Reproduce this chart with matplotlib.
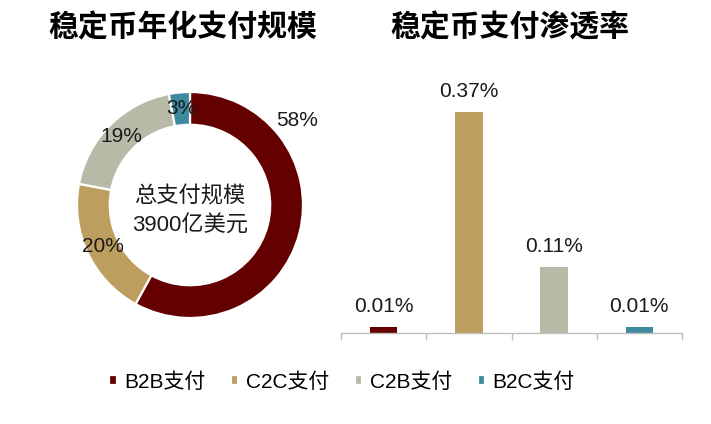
import numpy as np
import matplotlib
matplotlib.use('Agg')
import matplotlib.pyplot as plt

plt.rcParams['font.family'] = ['Liberation Sans', 'Noto Sans CJK SC', 'DejaVu Sans']

# data
categories = ['B2B支付', 'C2C支付', 'C2B支付', 'B2C支付']
share = [58, 20, 19, 3]              # 年化支付规模占比, %
penetration = [0.01, 0.37, 0.11, 0.01]  # 支付渗透率, %
colors = ['#650000', '#BD9E5E', '#B9B9A7', '#3E8A9E']
total_label = '总支付规模\n3900亿美元'

fig = plt.figure(figsize=(7.11, 4.24), dpi=100)

# donut
ax1 = fig.add_axes([77/711, 106/424, 226/711, 226/424])
wedges, texts, autotexts = ax1.pie(share, colors=colors, startangle=90, counterclock=False,
                                   radius=1, autopct=lambda p: '%d%%' % round(p), pctdistance=0.855,
                                   wedgeprops=dict(width=0.29, edgecolor='white', linewidth=1.6),
                                   textprops=dict(fontsize=15, color='#1a1a1a'))
# the big share label sits outside the ring
autotexts[0].set_position((0.95, 0.75))
ax1.set_xlim(-1, 1)
ax1.set_ylim(-1, 1)
ax1.set_aspect('equal')
ax1.text(0, -0.06, total_label, ha='center', va='center', fontsize=16, color='#1a1a1a',
         linespacing=1.5)
fig.text(183/711, 1 - 28/424, '稳定币年化支付规模', ha='center', va='center',
         fontsize=21.5, fontweight='bold', color='black')

# bars
ax2 = fig.add_axes([341/711, 91/424, 341/711, 239/424])
x = np.arange(len(categories))
bars = ax2.bar(x, penetration, width=0.32, color=colors)
for xi, v in zip(x, penetration):
    ax2.annotate('%.2f%%' % v, (xi, v), xytext=(0, 8), textcoords='offset points',
                 ha='center', va='bottom', fontsize=15, color='#1a1a1a', annotation_clip=False)
ax2.set_xlim(-0.5, len(categories) - 0.5)
ax2.set_ylim(0, 0.40)
for s in ['top', 'right', 'left']:
    ax2.spines[s].set_visible(False)
ax2.spines['bottom'].set_color('#bfbfbf')
ax2.spines['bottom'].set_linewidth(1.0)
ax2.set_yticks([])
ax2.set_xticks(np.arange(-0.5, len(categories)), labels=[''] * (len(categories) + 1))
ax2.tick_params(axis='x', length=5, color='#bfbfbf', width=1.0)
fig.text(510/711, 1 - 28/424, '稳定币支付渗透率', ha='center', va='center',
         fontsize=21.5, fontweight='bold', color='black')

fig.legend(wedges, categories, loc='center', bbox_to_anchor=(342/711, 1 - 382/424), ncol=4,
           frameon=False, fontsize=15, handlelength=0.35, handleheight=0.35,
           handletextpad=0.35, columnspacing=1.25)

fig.savefig('out.png', dpi=100)
